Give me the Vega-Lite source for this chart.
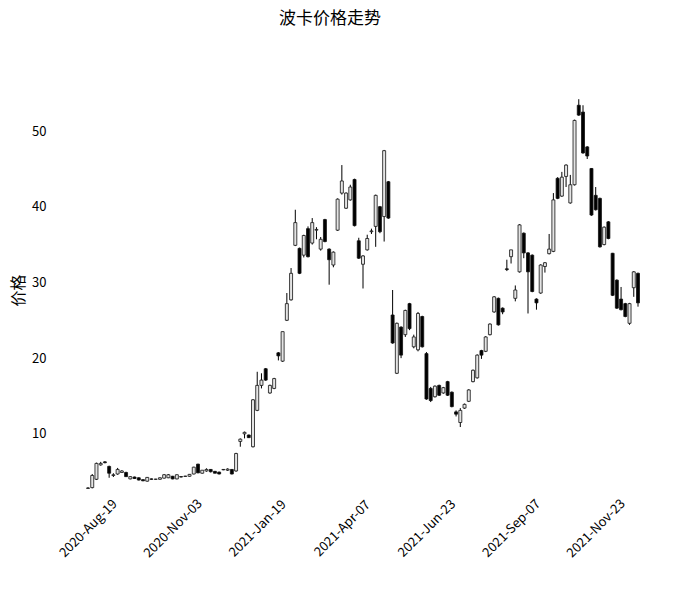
{
  "$schema": "https://vega.github.io/schema/vega-lite/v6.json",
  "width": 606,
  "height": 424,
  "autosize": {"type": "none"},
  "padding": {"left": 60, "top": 78, "right": 14, "bottom": 93},
  "background": "white",
  "config": {"view": {"stroke": null}, "font": "Noto Sans CJK SC"},
  "title": {"text": "波卡价格走势", "font": "Noto Sans CJK SC", "fontSize": 17, "fontWeight": "normal", "offset": 50, "dx": -33, "anchor": "middle", "color": "black"},
  "data": {"values": [
    {"date":"2020-08-19","open":2.8,"high":2.95,"low":2.75,"close":2.85},
    {"date":"2020-08-23","open":2.9,"high":4.7,"low":2.8,"close":4.5},
    {"date":"2020-08-27","open":4.0,"high":6.2,"low":3.9,"close":6.1},
    {"date":"2020-08-31","open":5.9,"high":6.3,"low":5.8,"close":6.1},
    {"date":"2020-09-04","open":6.3,"high":6.4,"low":6.1,"close":6.2},
    {"date":"2020-09-07","open":5.7,"high":5.8,"low":4.2,"close":4.8},
    {"date":"2020-09-11","open":4.5,"high":4.8,"low":4.3,"close":4.6},
    {"date":"2020-09-15","open":4.7,"high":5.5,"low":4.6,"close":5.3},
    {"date":"2020-09-19","open":4.9,"high":5.2,"low":4.9,"close":5.1},
    {"date":"2020-09-23","open":4.9,"high":5.0,"low":4.3,"close":4.35},
    {"date":"2020-09-26","open":4.05,"high":4.4,"low":4.0,"close":4.35},
    {"date":"2020-09-30","open":4.3,"high":4.35,"low":4.05,"close":4.1},
    {"date":"2020-10-04","open":4.2,"high":4.25,"low":3.85,"close":3.9},
    {"date":"2020-10-08","open":3.95,"high":4.0,"low":3.75,"close":3.8},
    {"date":"2020-10-12","open":3.75,"high":4.3,"low":3.7,"close":4.25},
    {"date":"2020-10-15","open":4.05,"high":4.1,"low":3.95,"close":4.0},
    {"date":"2020-10-19","open":4.0,"high":4.05,"low":3.95,"close":4.02},
    {"date":"2020-10-23","open":4.0,"high":4.25,"low":3.95,"close":4.2},
    {"date":"2020-10-27","open":4.15,"high":4.7,"low":4.1,"close":4.6},
    {"date":"2020-10-31","open":4.2,"high":4.7,"low":4.15,"close":4.6},
    {"date":"2020-11-03","open":4.4,"high":4.45,"low":4.0,"close":4.05},
    {"date":"2020-11-07","open":4.05,"high":4.65,"low":4.0,"close":4.6},
    {"date":"2020-11-11","open":4.35,"high":4.4,"low":4.25,"close":4.3},
    {"date":"2020-11-15","open":4.38,"high":4.45,"low":4.35,"close":4.42},
    {"date":"2020-11-19","open":4.4,"high":4.7,"low":4.35,"close":4.65},
    {"date":"2020-11-23","open":4.7,"high":5.65,"low":4.65,"close":5.6},
    {"date":"2020-11-27","open":6.0,"high":6.05,"low":4.8,"close":4.85},
    {"date":"2020-11-30","open":4.8,"high":5.2,"low":4.75,"close":5.2},
    {"date":"2020-12-04","open":5.1,"high":5.45,"low":5.0,"close":5.3},
    {"date":"2020-12-08","open":5.3,"high":5.35,"low":4.9,"close":5.0},
    {"date":"2020-12-12","open":5.05,"high":5.1,"low":4.8,"close":4.8},
    {"date":"2020-12-16","open":4.95,"high":5.0,"low":4.65,"close":4.7},
    {"date":"2020-12-20","open":5.25,"high":5.35,"low":5.2,"close":5.3},
    {"date":"2020-12-24","open":5.2,"high":5.45,"low":5.1,"close":5.35},
    {"date":"2020-12-27","open":5.3,"high":5.35,"low":4.65,"close":4.7},
    {"date":"2020-12-31","open":5.1,"high":7.5,"low":5.0,"close":7.4},
    {"date":"2021-01-04","open":9.0,"high":9.4,"low":8.3,"close":9.3},
    {"date":"2021-01-08","open":10.0,"high":10.3,"low":9.4,"close":10.2},
    {"date":"2021-01-12","open":9.85,"high":9.9,"low":9.45,"close":9.5},
    {"date":"2021-01-16","open":8.3,"high":14.6,"low":8.2,"close":14.5},
    {"date":"2021-01-19","open":13.1,"high":18.2,"low":13.0,"close":16.4},
    {"date":"2021-01-23","open":16.4,"high":18.0,"low":16.0,"close":17.1},
    {"date":"2021-01-27","open":18.6,"high":18.7,"low":17.0,"close":17.1},
    {"date":"2021-01-31","open":15.4,"high":16.5,"low":15.3,"close":16.4},
    {"date":"2021-02-04","open":16.0,"high":17.4,"low":15.9,"close":17.3},
    {"date":"2021-02-08","open":20.7,"high":20.8,"low":19.7,"close":20.3},
    {"date":"2021-02-12","open":19.6,"high":23.5,"low":19.5,"close":23.5},
    {"date":"2021-02-16","open":25.0,"high":28.6,"low":24.9,"close":27.2},
    {"date":"2021-02-20","open":27.7,"high":31.9,"low":27.6,"close":31.2},
    {"date":"2021-02-24","open":34.9,"high":39.6,"low":34.8,"close":37.9},
    {"date":"2021-02-27","open":34.5,"high":34.6,"low":31.1,"close":31.2},
    {"date":"2021-03-03","open":33.6,"high":36.3,"low":33.3,"close":36.2},
    {"date":"2021-03-07","open":37.1,"high":37.4,"low":33.3,"close":33.4},
    {"date":"2021-03-11","open":35.2,"high":38.5,"low":35.0,"close":37.9},
    {"date":"2021-03-15","open":36.9,"high":37.3,"low":35.7,"close":37.0},
    {"date":"2021-03-19","open":34.4,"high":36.0,"low":34.2,"close":35.7},
    {"date":"2021-03-23","open":38.3,"high":38.4,"low":35.3,"close":35.4},
    {"date":"2021-03-27","open":34.4,"high":34.5,"low":29.7,"close":33.0},
    {"date":"2021-03-31","open":32.3,"high":34.1,"low":32.0,"close":34.0},
    {"date":"2021-04-04","open":36.9,"high":41.1,"low":36.8,"close":41.0},
    {"date":"2021-04-07","open":41.8,"high":45.5,"low":41.6,"close":43.4},
    {"date":"2021-04-11","open":39.8,"high":41.9,"low":39.7,"close":41.8},
    {"date":"2021-04-15","open":40.9,"high":42.9,"low":40.8,"close":42.6},
    {"date":"2021-04-19","open":43.6,"high":43.7,"low":37.4,"close":37.5},
    {"date":"2021-04-23","open":35.5,"high":35.9,"low":33.1,"close":33.2},
    {"date":"2021-04-27","open":32.4,"high":33.6,"low":29.2,"close":33.5},
    {"date":"2021-05-01","open":34.3,"high":36.3,"low":34.2,"close":35.8},
    {"date":"2021-05-04","open":36.7,"high":37.1,"low":36.4,"close":36.8},
    {"date":"2021-05-08","open":37.4,"high":41.6,"low":34.7,"close":41.5},
    {"date":"2021-05-12","open":40.0,"high":40.1,"low":36.5,"close":36.7},
    {"date":"2021-05-16","open":38.7,"high":47.5,"low":35.4,"close":47.4},
    {"date":"2021-05-20","open":43.3,"high":43.4,"low":38.4,"close":38.5},
    {"date":"2021-05-24","open":25.7,"high":29.0,"low":21.9,"close":22.0},
    {"date":"2021-05-28","open":18.0,"high":24.7,"low":17.9,"close":24.6},
    {"date":"2021-05-31","open":24.1,"high":24.2,"low":20.0,"close":20.4},
    {"date":"2021-06-04","open":23.1,"high":26.4,"low":22.8,"close":26.3},
    {"date":"2021-06-08","open":27.2,"high":27.3,"low":23.7,"close":23.9},
    {"date":"2021-06-12","open":21.5,"high":23.1,"low":21.3,"close":22.8},
    {"date":"2021-06-16","open":21.1,"high":26.1,"low":20.9,"close":25.9},
    {"date":"2021-06-20","open":25.5,"high":25.6,"low":21.4,"close":21.5},
    {"date":"2021-06-23","open":20.6,"high":20.8,"low":14.5,"close":14.6},
    {"date":"2021-06-27","open":16.0,"high":16.2,"low":14.2,"close":14.4},
    {"date":"2021-07-01","open":14.9,"high":16.4,"low":14.8,"close":16.3},
    {"date":"2021-07-05","open":16.4,"high":16.5,"low":15.0,"close":15.1},
    {"date":"2021-07-09","open":15.4,"high":16.2,"low":15.3,"close":16.1},
    {"date":"2021-07-12","open":16.9,"high":17.0,"low":15.0,"close":15.1},
    {"date":"2021-07-16","open":15.5,"high":15.6,"low":13.5,"close":13.6},
    {"date":"2021-07-20","open":12.9,"high":13.1,"low":12.3,"close":12.6},
    {"date":"2021-07-24","open":11.5,"high":13.4,"low":10.9,"close":13.1},
    {"date":"2021-07-28","open":13.4,"high":14.0,"low":13.3,"close":13.9},
    {"date":"2021-07-31","open":14.3,"high":15.9,"low":14.2,"close":15.8},
    {"date":"2021-08-04","open":16.9,"high":18.5,"low":16.8,"close":18.4},
    {"date":"2021-08-08","open":17.4,"high":20.5,"low":17.3,"close":20.4},
    {"date":"2021-08-12","open":21.0,"high":21.1,"low":19.9,"close":20.4},
    {"date":"2021-08-16","open":20.9,"high":22.9,"low":20.8,"close":22.8},
    {"date":"2021-08-19","open":23.1,"high":24.6,"low":23.0,"close":24.5},
    {"date":"2021-08-23","open":26.1,"high":28.2,"low":26.0,"close":28.1},
    {"date":"2021-08-27","open":27.9,"high":28.0,"low":24.3,"close":24.4},
    {"date":"2021-08-31","open":26.6,"high":26.7,"low":25.8,"close":26.1},
    {"date":"2021-09-04","open":31.8,"high":33.0,"low":31.5,"close":31.7},
    {"date":"2021-09-07","open":33.4,"high":34.3,"low":32.5,"close":34.3},
    {"date":"2021-09-11","open":27.9,"high":29.6,"low":27.5,"close":29.0},
    {"date":"2021-09-15","open":31.4,"high":37.7,"low":31.3,"close":37.6},
    {"date":"2021-09-19","open":36.5,"high":36.6,"low":33.2,"close":33.9},
    {"date":"2021-09-23","open":33.9,"high":34.0,"low":25.9,"close":31.4},
    {"date":"2021-09-27","open":33.6,"high":33.7,"low":28.7,"close":28.8},
    {"date":"2021-10-01","open":27.8,"high":27.9,"low":26.4,"close":27.3},
    {"date":"2021-10-04","open":28.6,"high":32.4,"low":28.5,"close":32.3},
    {"date":"2021-10-08","open":32.1,"high":32.7,"low":31.3,"close":32.6},
    {"date":"2021-10-12","open":33.8,"high":36.4,"low":33.7,"close":34.4},
    {"date":"2021-10-16","open":34.1,"high":41.8,"low":34.0,"close":40.9},
    {"date":"2021-10-20","open":43.75,"high":43.9,"low":41.0,"close":41.1},
    {"date":"2021-10-24","open":41.4,"high":44.6,"low":41.3,"close":43.9},
    {"date":"2021-10-28","open":44.0,"high":45.6,"low":42.6,"close":45.5},
    {"date":"2021-10-31","open":40.5,"high":44.2,"low":40.4,"close":42.9},
    {"date":"2021-11-04","open":42.9,"high":51.5,"low":42.8,"close":51.4},
    {"date":"2021-11-08","open":53.4,"high":54.2,"low":52.0,"close":52.1},
    {"date":"2021-11-12","open":52.5,"high":53.4,"low":47.0,"close":47.1},
    {"date":"2021-11-16","open":47.9,"high":48.0,"low":46.3,"close":46.7},
    {"date":"2021-11-20","open":45.05,"high":45.1,"low":38.8,"close":38.9},
    {"date":"2021-11-23","open":41.5,"high":42.6,"low":39.5,"close":39.6},
    {"date":"2021-11-27","open":41.1,"high":41.2,"low":34.6,"close":34.7},
    {"date":"2021-12-01","open":35.0,"high":37.4,"low":34.9,"close":37.3},
    {"date":"2021-12-05","open":38.0,"high":38.1,"low":35.7,"close":35.8},
    {"date":"2021-12-09","open":33.85,"high":33.9,"low":28.2,"close":28.3},
    {"date":"2021-12-12","open":30.3,"high":30.4,"low":26.5,"close":26.6},
    {"date":"2021-12-16","open":27.8,"high":29.4,"low":26.3,"close":26.4},
    {"date":"2021-12-20","open":27.2,"high":27.3,"low":25.4,"close":25.5},
    {"date":"2021-12-24","open":24.6,"high":27.3,"low":24.4,"close":27.2},
    {"date":"2021-12-28","open":29.3,"high":31.5,"low":28.1,"close":31.4},
    {"date":"2021-12-31","open":31.2,"high":31.3,"low":26.8,"close":27.3}
  ]},
  "encoding": {
    "x": {
      "field": "date", "type": "ordinal",
      "scale": {"type": "point", "padding": 0, "range": [28, 578]},
      "axis": {
        "title": null,
        "values": ["2020-08-19","2020-11-03","2021-01-19","2021-04-07","2021-06-23","2021-09-07","2021-11-23"],
        "labelExpr": "utcFormat(toDate(datum.value), '%Y-%b-%d')",
        "labelAngle": -45, "labelAlign": "center", "labelBaseline": "middle",
        "labelPadding": 26, "labelFontSize": 13, "labelColor": "black",
        "labelFont": "Noto Sans CJK SC",
        "domain": false, "ticks": false, "grid": false
      }
    },
    "y": {
      "type": "quantitative",
      "scale": {"domain": [1, 57], "zero": false, "nice": false},
      "axis": {
        "title": "价格", "titleFont": "Noto Sans CJK SC", "titleFontSize": 16, "titleFontWeight": "normal",
        "titleColor": "black", "titlePadding": 5,
        "values": [10, 20, 30, 40, 50], "labelFontSize": 13, "labelColor": "black",
        "labelFont": "Noto Sans CJK SC", "labelPadding": 14,
        "domain": false, "ticks": false, "grid": false
      }
    }
  },
  "layer": [
    {
      "mark": {"type": "rule", "color": "black", "strokeWidth": 1},
      "encoding": {"y": {"field": "low", "type": "quantitative"}, "y2": {"field": "high"}}
    },
    {
      "mark": {"type": "bar", "width": 3, "stroke": "#111111", "strokeWidth": 0.8},
      "encoding": {
        "y": {"field": "open", "type": "quantitative"},
        "y2": {"field": "close"},
        "fill": {"condition": {"test": "datum.close >= datum.open", "value": "#e4e4e4"}, "value": "black"}
      }
    }
  ]
}
